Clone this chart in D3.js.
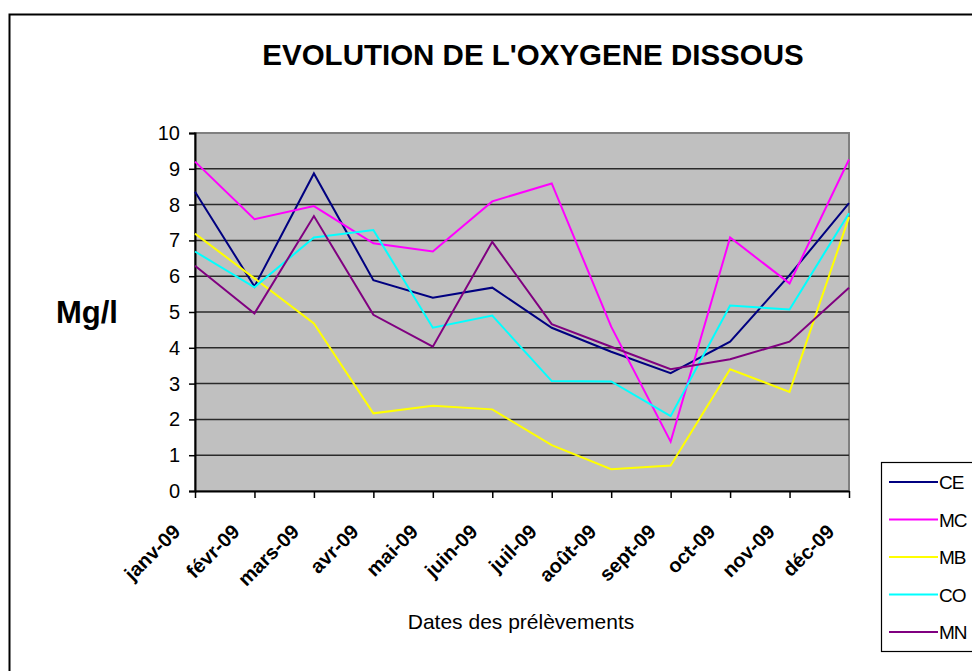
<!DOCTYPE html>
<html>
<head>
<meta charset="utf-8">
<script src="https://cdn.jsdelivr.net/npm/d3@7"></script>
<style>
  body { margin: 0; background: #fff; }
  svg { font-family: "Liberation Sans", Arial, sans-serif; }
</style>
</head>
<body>
<div id="chart"></div>
<script>
// months of sampling
var months = ["janv-09", "févr-09", "mars-09", "avr-09", "mai-09", "juin-09",
              "juil-09", "août-09", "sept-09", "oct-09", "nov-09", "déc-09"];

var yTicks = [0, 1, 2, 3, 4, 5, 6, 7, 8, 9, 10];

// dissolved oxygen values (mg/l) per station
var CE = [8.36, 5.71, 8.87, 5.89, 5.40, 5.68, 4.56, 3.89, 3.29, 4.17, 6.03, 8.04];
var MC = [9.20, 7.59, 7.96, 6.92, 6.69, 8.09, 8.59, 4.59, 1.38, 7.08, 5.80, 9.26];
var MB = [7.19, 5.94, 4.68, 2.17, 2.38, 2.28, 1.28, 0.61, 0.71, 3.40, 2.77, 7.65];
var CO = [6.69, 5.69, 7.08, 7.29, 4.56, 4.90, 3.07, 3.06, 2.09, 5.18, 5.07, 7.76];
var MN = [6.29, 4.96, 7.68, 4.92, 4.03, 6.96, 4.66, 4.03, 3.40, 3.68, 4.17, 5.68];

var seriesNames = ["CE", "MC", "MB", "CO", "MN"];
var seriesColors = ["#000080", "#ff00ff", "#ffff00", "#00ffff", "#800080"];
var seriesValues = [CE, MC, MB, CO, MN];

var width = 972, height = 671;
var plot = {left: 195, right: 849, top: 133, bottom: 491};

var svg = d3.select("#chart")
  .append("svg")
    .attr("width", width)
    .attr("height", height);

// chart border
svg.append("rect")
  .attr("x", 9.5).attr("y", 14.5)
  .attr("width", 1000).attr("height", 700)
  .style("fill", "#fff")
  .style("stroke", "#000")
  .style("stroke-width", 2);

var x = d3.scalePoint()
  .domain(months)
  .range([plot.left, plot.right]);

var y = d3.scaleLinear()
  .domain([0, 10])
  .range([plot.bottom, plot.top]);

// plot background
svg.append("rect")
  .attr("x", plot.left).attr("y", plot.top)
  .attr("width", plot.right - plot.left)
  .attr("height", plot.bottom - plot.top)
  .style("fill", "#c0c0c0")
  .style("stroke", "#808080")
  .style("stroke-width", 2);

// gridlines
svg.append("g")
  .selectAll("line")
  .data(yTicks.filter(d => d > 0 && d < 10))
  .enter()
  .append("line")
    .attr("x1", plot.left).attr("x2", plot.right)
    .attr("y1", d => y(d)).attr("y2", d => y(d))
    .style("stroke", "#2a2a2a")
    .style("stroke-width", 1.5);

// y axis
var yAxis = svg.append("g")
  .attr("transform", `translate(${plot.left},0)`)
  .call(d3.axisLeft(y).tickValues(yTicks).tickSize(6).tickPadding(9));
yAxis.select(".domain").style("stroke", "#000").style("stroke-width", 2);
yAxis.selectAll(".tick line").style("stroke-width", 1.5);
yAxis.selectAll("text").style("font-size", "20px").style("fill", "#000")
  .style("font-family", "Liberation Sans, Arial, sans-serif");

// x axis
var xAxis = svg.append("g")
  .attr("transform", `translate(0,${plot.bottom})`)
  .call(d3.axisBottom(x).tickSize(7).tickSizeOuter(0));
xAxis.select(".domain").style("stroke", "#000").style("stroke-width", 2);
xAxis.selectAll(".tick line").style("stroke-width", 1.5);
xAxis.selectAll("text")
  .style("font-size", "20px")
  .style("font-weight", "bold")
  .style("fill", "#000")
  .style("font-family", "Liberation Sans, Arial, sans-serif")
  .style("text-anchor", "end")
  .attr("x", 0).attr("y", 0)
  .attr("dy", null)
  .attr("transform", "translate(-14,42) rotate(-45)");

// lines
var line = d3.line()
  .x((d, i) => x(months[i]))
  .y(d => y(d));

svg.append("g")
  .selectAll("path")
  .data(seriesValues)
  .enter()
  .append("path")
    .attr("d", line)
    .style("fill", "none")
    .style("stroke", (d, i) => seriesColors[i])
    .style("stroke-width", 2);

// titles
svg.append("text")
  .attr("x", 533).attr("y", 65)
  .style("text-anchor", "middle")
  .style("font-size", "29.5px")
  .style("font-weight", "bold")
  .text("EVOLUTION DE L'OXYGENE DISSOUS");

svg.append("text")
  .attr("x", 56).attr("y", 323)
  .style("font-size", "31px")
  .style("font-weight", "bold")
  .text("Mg/l");

svg.append("text")
  .attr("x", 521).attr("y", 629)
  .style("text-anchor", "middle")
  .style("font-size", "21px")
  .text("Dates des prélèvements");

// legend
var legend = svg.append("g");
legend.append("rect")
  .attr("x", 881.5).attr("y", 462.5)
  .attr("width", 120).attr("height", 189)
  .style("fill", "#fff")
  .style("stroke", "#000")
  .style("stroke-width", 1.2);

var items = legend.selectAll("g.item")
  .data(seriesNames)
  .enter()
  .append("g")
    .attr("class", "item")
    .attr("transform", (d, i) => `translate(0,${482 + i * 37.5})`);

items.append("line")
  .attr("x1", 889).attr("x2", 938)
  .attr("y1", 0).attr("y2", 0)
  .style("stroke", (d, i) => seriesColors[i])
  .style("stroke-width", 2);

items.append("text")
  .attr("x", 939).attr("y", 7)
  .style("font-size", "19px")
  .style("letter-spacing", "-1px")
  .text(d => d);
</script>
</body>
</html>
